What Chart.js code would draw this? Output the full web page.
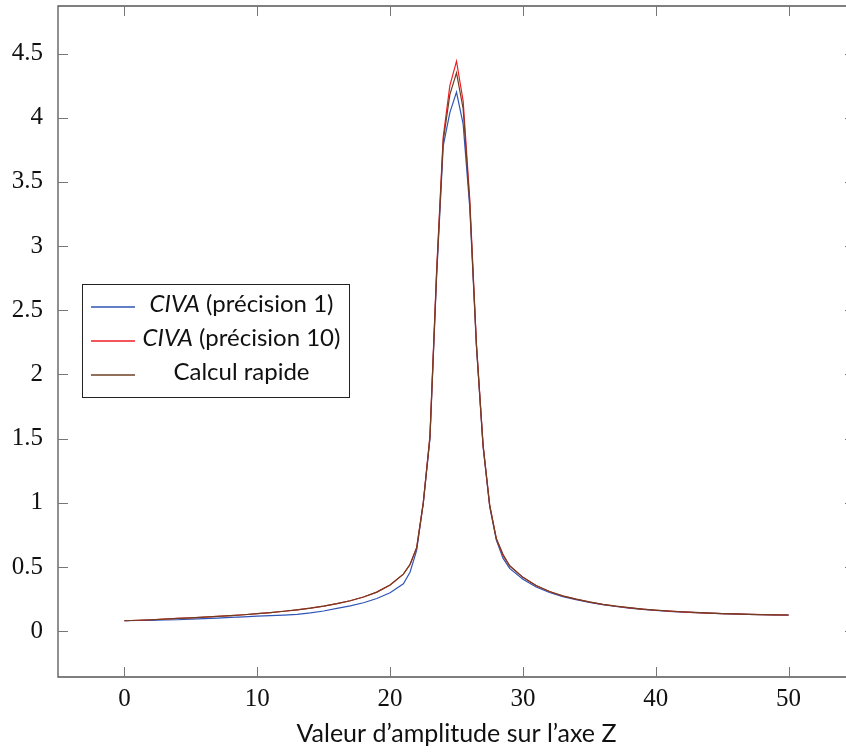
<!DOCTYPE html>
<html lang="fr">
<head>
<meta charset="UTF-8">
<title>Valeur d'amplitude sur l'axe Z</title>
<script src="https://cdn.jsdelivr.net/npm/chart.js"></script>
<style>
  html, body { margin: 0; padding: 0; background: #fff; overflow: hidden; }
  #wrap { width: 846px; height: 755px; overflow: hidden; }
</style>
</head>
<body>
<div id="wrap"><canvas id="ampChart" width="870" height="755"></canvas></div>
<script>
// abscisses (pas de 0.5 autour du pic)
const xs = [0,1,2,3,4,5,6,7,8,9,10,11,12,13,14,15,16,17,18,19,20,21,21.5,22,22.5,23,23.5,24,24.5,25,25.5,26,26.5,27,27.5,28,28.5,29,30,31,32,33,34,35,36,37,38,39,40,41,42,43,44,45,46,47,48,49,50];

const civaP1 = [0.082,0.084,0.085,0.088,0.090,0.094,0.098,0.103,0.108,0.112,0.118,0.122,0.126,0.132,0.143,0.158,0.178,0.198,0.222,0.255,0.300,0.370,0.46,0.63,1.0,1.5,2.76,3.78,4.04,4.20,3.95,3.30,2.22,1.44,0.97,0.71,0.57,0.49,0.405,0.345,0.302,0.27,0.246,0.225,0.208,0.193,0.181,0.171,0.162,0.155,0.150,0.145,0.141,0.137,0.134,0.131,0.129,0.127,0.126];
const civaP10 = [0.082,0.086,0.090,0.095,0.100,0.105,0.110,0.116,0.122,0.129,0.137,0.146,0.156,0.167,0.180,0.196,0.215,0.238,0.267,0.305,0.360,0.445,0.52,0.65,1.0,1.52,2.80,3.85,4.25,4.44,4.13,3.36,2.24,1.45,0.98,0.72,0.59,0.51,0.42,0.355,0.31,0.275,0.25,0.228,0.21,0.195,0.183,0.173,0.164,0.157,0.151,0.146,0.142,0.138,0.135,0.132,0.130,0.128,0.127];
const calculRapide = [0.082,0.086,0.090,0.095,0.100,0.105,0.110,0.116,0.122,0.129,0.137,0.146,0.156,0.167,0.180,0.196,0.215,0.238,0.267,0.305,0.360,0.445,0.52,0.65,1.0,1.51,2.78,3.82,4.18,4.35,4.07,3.33,2.23,1.45,0.98,0.72,0.60,0.51,0.42,0.356,0.31,0.276,0.25,0.229,0.21,0.196,0.184,0.173,0.165,0.158,0.152,0.147,0.142,0.138,0.135,0.132,0.130,0.128,0.127];

const xTicks = [0, 10, 20, 30, 40, 50];
const yTicks = [0, 0.5, 1, 1.5, 2, 2.5, 3, 3.5, 4, 4.5];

const seriesColors = ['#2f55b6', '#ee1c24', '#6e3f22'];

const serifFont = "'Liberation Serif', serif";
const sansFont = "Lato, 'Open Sans', sans-serif";

function pts(ys) {
    return xs.map((x, i) => ({ x: x, y: ys[i] }));
}

function noPad(s) {
    s.paddingTop = 0; s.paddingBottom = 0;
    s.paddingLeft = 0; s.paddingRight = 0;
}

// cadre + graduations vers l'intérieur (style pgfplots)
const frameTicks = {
    id: 'frameTicks',
    afterDatasetsDraw(chart) {
        const { ctx, chartArea: a, scales } = chart;
        const len = 10;
        ctx.save();
        ctx.strokeStyle = '#555';
        ctx.lineWidth = 1.3;
        ctx.beginPath();
        ctx.moveTo(a.right, a.top);
        ctx.lineTo(a.left, a.top);
        ctx.lineTo(a.left, a.bottom);
        ctx.lineTo(a.right, a.bottom);
        ctx.stroke();
        ctx.lineWidth = 1;
        ctx.strokeStyle = '#777';
        ctx.beginPath();
        xTicks.forEach(v => {
            const px = Math.round(scales.x.getPixelForValue(v)) + 0.5;
            ctx.moveTo(px, a.bottom); ctx.lineTo(px, a.bottom - len);
            ctx.moveTo(px, a.top); ctx.lineTo(px, a.top + len);
        });
        yTicks.forEach(v => {
            const py = Math.round(scales.y.getPixelForValue(v)) + 0.5;
            ctx.moveTo(a.left, py); ctx.lineTo(a.left + len, py);
            ctx.moveTo(a.right, py); ctx.lineTo(a.right - len, py);
        });
        ctx.stroke();
        ctx.restore();
    }
};

// légende dessinée à la main (CIVA en italique)
const legendBox = {
    id: 'legendBox',
    afterDraw(chart) {
        const c = chart.ctx;
        const box = { x: 82.5, y: 284.5, w: 267, h: 113 };
        const rows = [
            { it: 'CIVA', rest: ' (précision 1)', color: seriesColors[0], y: 307 },
            { it: 'CIVA', rest: ' (précision 10)', color: seriesColors[1], y: 341 },
            { it: '', rest: 'Calcul rapide', color: seriesColors[2], y: 375 }
        ];
        const cx = 241.5;
        const fs = 24;
        c.save();
        c.fillStyle = '#fff';
        c.fillRect(box.x, box.y, box.w, box.h);
        c.strokeStyle = '#222';
        c.lineWidth = 1;
        c.strokeRect(box.x, box.y, box.w, box.h);
        c.textBaseline = 'middle';
        c.textAlign = 'left';
        rows.forEach(r => {
            c.beginPath();
            c.strokeStyle = r.color;
            c.lineWidth = 1.5;
            c.moveTo(91, r.y);
            c.lineTo(135, r.y);
            c.stroke();
            c.font = 'italic ' + fs + 'px ' + sansFont;
            const wi = r.it ? c.measureText(r.it).width : 0;
            c.font = fs + 'px ' + sansFont;
            const wr = c.measureText(r.rest).width;
            let x = cx - (wi + wr) / 2;
            c.fillStyle = '#111';
            if (r.it) {
                c.font = 'italic ' + fs + 'px ' + sansFont;
                c.fillText(r.it, x, r.y - 3);
                x += wi;
            }
            c.font = fs + 'px ' + sansFont;
            c.fillText(r.rest, x, r.y - 3);
        });
        c.restore();
    }
};

const ctx = document.getElementById('ampChart').getContext('2d');
new Chart(ctx, {
    type: 'line',
    data: {
        datasets: [
            { label: 'CIVA (précision 1)', data: pts(civaP1), borderColor: seriesColors[0], borderWidth: 1.2, pointRadius: 0, fill: false, tension: 0, order: 3 },
            { label: 'CIVA (précision 10)', data: pts(civaP10), borderColor: seriesColors[1], borderWidth: 1.2, pointRadius: 0, fill: false, tension: 0, order: 2 },
            { label: 'Calcul rapide', data: pts(calculRapide), borderColor: seriesColors[2], borderWidth: 1.2, pointRadius: 0, fill: false, tension: 0, order: 1 }
        ]
    },
    options: {
        responsive: false,
        animation: false,
        layout: { padding: { left: 0, top: 6, right: 15, bottom: 0 } },
        plugins: {
            legend: { display: false },
            tooltip: { enabled: false }
        },
        scales: {
            x: {
                type: 'linear',
                min: -5,
                max: 55,
                grid: { display: false, drawTicks: false },
                border: { display: false },
                afterBuildTicks: s => { s.ticks = xTicks.map(v => ({ value: v })); },
                afterFit: s => { s.height = 78; noPad(s); },
                ticks: {
                    padding: 7,
                    color: '#111',
                    font: { family: serifFont, size: 25 },
                    callback: v => String(v)
                },
                title: {
                    display: true,
                    text: 'Valeur d’amplitude sur l’axe Z',
                    color: '#111',
                    font: { family: sansFont, size: 25 },
                    padding: { top: 0, bottom: 6 }
                }
            },
            y: {
                type: 'linear',
                min: -0.356,
                max: 4.87,
                grid: { display: false, drawTicks: false },
                border: { display: false },
                afterBuildTicks: s => { s.ticks = yTicks.map(v => ({ value: v })); },
                afterFit: s => { s.width = 58; noPad(s); },
                ticks: {
                    padding: 15,
                    color: '#111',
                    font: { family: serifFont, size: 25 },
                    callback: v => String(v)
                }
            }
        }
    },
    plugins: [frameTicks, legendBox]
});
</script>
</body>
</html>
